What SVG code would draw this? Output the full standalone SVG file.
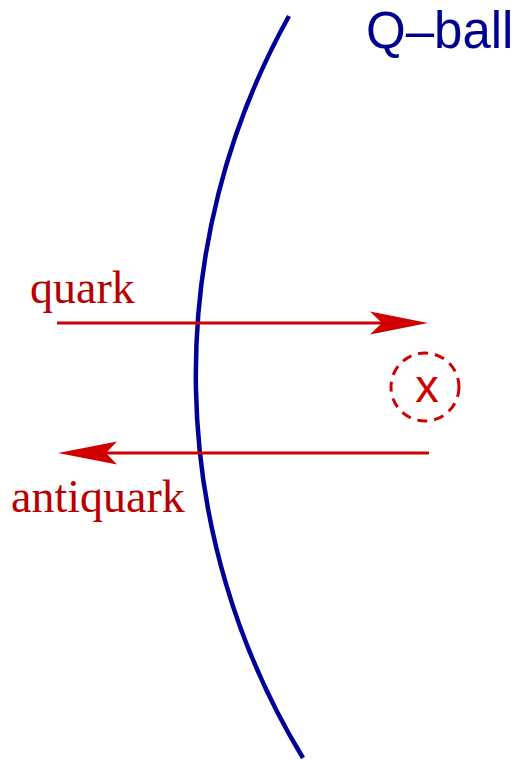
<svg xmlns="http://www.w3.org/2000/svg" width="516" height="760" viewBox="0 0 516 760">
<style>
.arrow{stroke:#d00000;stroke-width:3;fill:none}
.head{fill:#d00000;stroke:none}
.lbl{font-family:"Liberation Serif",serif;font-size:46px;fill:#b80000}
</style>
<rect width="516" height="760" fill="#fff"/>
<g id="qball">
<path d="M289,16 A738,738 0 0 0 303,758" fill="none" stroke="#000099" stroke-width="4.5"/>
<text x="366" y="48" font-family="Liberation Sans,Arial,sans-serif" font-size="51" fill="#000090">Q–ball</text>
</g>
<g id="connectors">
<line class="arrow" x1="57" y1="323" x2="385" y2="323"/>
<path class="head" d="M428,323 L370,311.5 L382,323 L370,334.5 Z"/>
<line class="arrow" x1="429" y1="453" x2="100" y2="453"/>
<path class="head" d="M58,453 L117,441.5 L106,453 L117,464.5 Z"/>
</g>
<g id="quark"><text class="lbl" x="30" y="303">quark</text></g>
<g id="antiquark"><text class="lbl" x="11" y="512">antiquark</text></g>
<g id="vertex">
<circle cx="425" cy="387" r="34" fill="none" stroke="#d00000" stroke-width="3" stroke-dasharray="10 7"/>
<text x="427" y="402" text-anchor="middle" font-family="Liberation Sans,Arial,sans-serif" font-size="47" fill="#d00000">x</text>
</g>
</svg>
